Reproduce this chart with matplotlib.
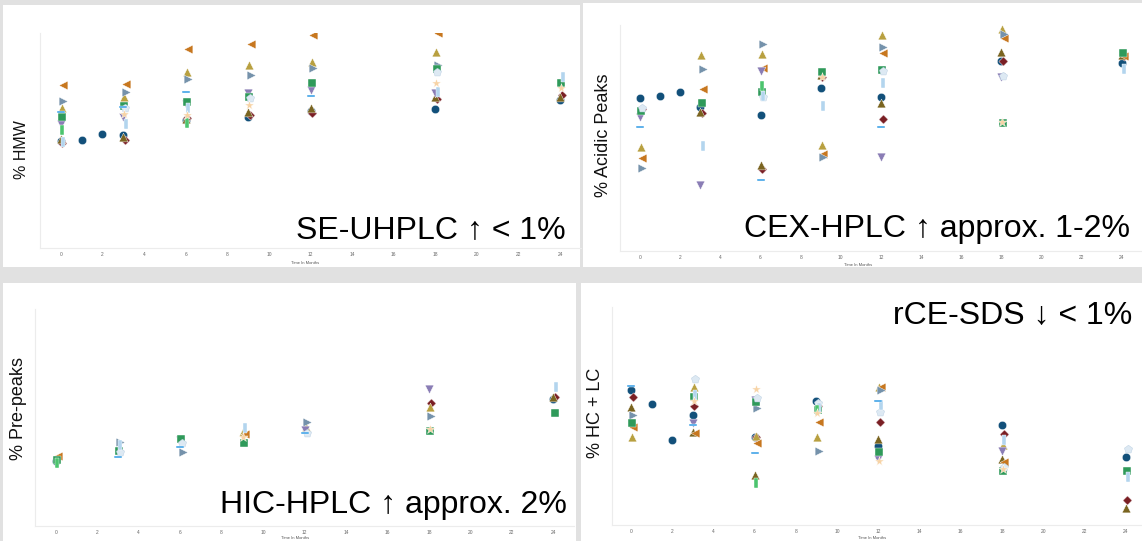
import matplotlib
matplotlib.use("Agg")
import matplotlib.pyplot as plt
from matplotlib.patches import Rectangle
import numpy as np

plt.rcParams["font.family"] = ["Liberation Sans", "DejaVu Sans"]

W, H = 1142, 541
N = None

MONTHS = [0, 1, 2, 3, 6, 9, 12, 18, 24]
LOTS = ["Lot A", "Lot B", "Lot C", "Lot D", "Lot E", "Lot F", "Lot G",
        "Lot H", "Lot I", "Lot J", "Lot K", "Lot L", "Lot M"]

# % HMW (SE-UHPLC)
HMW = {
    "Lot A": [1.07, 1.08, 1.14, 1.13, 1.28, 1.31, 1.37, 1.39, 1.48],
    "Lot B": [1.05, N, N, 1.08, 1.30, 1.33, 1.35, 1.49, 1.53],
    "Lot C": [1.09, N, N, 1.11, 1.29, 1.36, 1.40, 1.51, 1.51],
    "Lot D": [1.40, N, N, 1.51, 1.76, 1.83, 1.86, 1.96, N],
    "Lot E": [1.63, N, N, 1.64, 1.99, 2.04, 2.13, 2.15, N],
    "Lot F": [1.47, N, N, 1.56, 1.69, 1.73, 1.80, 1.83, N],
    "Lot G": [1.24, N, N, 1.31, 1.44, 1.55, 1.58, 1.55, N],
    "Lot H": [1.31, N, N, 1.42, 1.46, 1.51, 1.65, 1.79, 1.65],
    "Lot I": [N, N, N, 1.40, N, 1.50, N, 1.76, N],
    "Lot J": [1.06, N, N, 1.24, 1.40, N, N, 1.56, 1.71],
    "Lot K": [1.36, N, N, 1.41, 1.56, N, 1.52, N, N],
    "Lot L": [1.18, N, N, N, 1.25, N, N, N, N],
    "Lot M": [N, N, N, 1.34, 1.33, 1.43, N, 1.65, 1.60],
}

# % Acidic Peaks (CEX-HPLC)
CEX = {
    "Lot A": [22.65, 22.75, 22.95, 22.2, 21.8, 23.15, 22.7, 24.5, 24.4],
    "Lot B": [22.1, N, N, 21.9, 19.1, 23.7, 21.6, 24.5, 24.75],
    "Lot C": [22.05, N, N, 21.95, 19.3, 23.8, 22.4, 24.95, 24.8],
    "Lot D": [20.2, N, N, 24.8, 24.85, 20.3, 25.8, 26.1, N],
    "Lot E": [19.65, N, N, 23.1, 24.15, 19.85, 24.9, 25.65, 24.75],
    "Lot F": [19.15, N, N, 24.1, 25.35, 19.7, 25.2, 25.85, N],
    "Lot G": [21.7, N, N, 18.3, 24.0, N, 19.7, 23.7, N],
    "Lot H": [22.0, N, N, 22.4, 22.95, 23.95, 24.05, 21.4, 24.9],
    "Lot I": [22.15, N, N, N, 22.7, N, 24.0, 23.75, N],
    "Lot J": [N, N, N, 20.25, 22.75, 22.25, 23.4, N, 24.1],
    "Lot K": [21.2, N, N, N, 18.55, N, 21.2, N, N],
    "Lot L": [N, N, N, N, 23.25, N, N, N, N],
    "Lot M": [N, N, N, N, N, 23.7, N, 21.45, N],
}

# % Pre-peaks (HIC-HPLC)
HIC = {
    "Lot A": [2.62, N, N, N, N, N, N, N, 5.08],
    "Lot B": [N, N, N, N, N, N, N, 4.92, 5.16],
    "Lot C": [N, N, N, N, N, N, N, N, 5.16],
    "Lot D": [N, N, N, 3.16, N, 3.76, 3.96, 4.76, N],
    "Lot E": [2.80, N, N, N, N, 3.68, N, N, N],
    "Lot F": [N, N, N, 3.36, 2.96, N, 4.16, 4.40, N],
    "Lot G": [N, N, N, N, 3.44, N, 3.84, 5.48, N],
    "Lot H": [2.64, N, N, 3.00, 3.48, 3.32, N, 3.80, 4.52],
    "Lot I": [N, N, N, 2.96, 3.32, N, 3.72, N, N],
    "Lot J": [N, N, N, 3.24, N, 3.92, N, N, 5.56],
    "Lot K": [N, N, N, 2.76, 3.16, N, 3.72, N, N],
    "Lot L": [2.52, N, N, N, N, N, N, N, N],
    "Lot M": [N, N, N, N, N, 3.56, N, 3.88, N],
}

# % HC + LC (rCE-SDS)
RCE = {
    "Lot A": [95.69, 95.51, 95.06, 95.38, 95.10, 95.55, 94.99, 95.25, 94.85],
    "Lot B": [95.60, N, N, 95.49, 95.10, 95.49, 95.29, 95.14, 94.31],
    "Lot C": [95.48, N, N, 95.16, 94.63, N, 95.08, 94.83, 94.21],
    "Lot D": [95.10, N, N, 95.73, 95.11, 95.10, 95.73, 95.00, N],
    "Lot E": [95.23, N, N, 95.15, 95.03, 95.29, 95.73, 94.79, N],
    "Lot F": [95.38, N, N, N, 95.46, 94.93, 95.69, N, N],
    "Lot G": [N, N, N, 95.28, 95.56, N, 94.83, 94.93, N],
    "Lot H": [95.28, N, N, 95.60, 95.54, 95.44, 94.91, 94.68, 94.68],
    "Lot I": [N, N, N, 95.83, 95.59, 95.53, 95.41, 94.73, 94.95],
    "Lot J": [N, N, N, 95.63, N, 95.46, 95.50, 95.06, 94.60],
    "Lot K": [95.74, N, N, 95.25, 94.90, N, 95.55, N, N],
    "Lot L": [N, N, N, N, 94.53, 95.44, N, N, N],
    "Lot M": [N, N, N, 95.55, 95.70, 95.40, 94.80, 94.70, N],
}

# marker styles per lot
VBAR = [(-0.3, -1), (0.3, -1), (0.3, 1), (-0.3, 1), (-0.3, -1)]
HBAR = [(-1, -0.3), (1, -0.3), (1, 0.3), (-1, 0.3), (-1, -0.3)]
STYLE = {
    "Lot A": dict(marker="o", c="#12507a", s=36, dx=0.0),
    "Lot B": dict(marker="D", c="#7a1f24", s=22, dx=0.08),
    "Lot C": dict(marker="^", c="#7a6420", s=40, dx=0.0),
    "Lot D": dict(marker="^", c="#b8a040", s=40, dx=0.05),
    "Lot E": dict(marker="<", c="#c7771f", s=40, dx=0.12),
    "Lot F": dict(marker=">", c="#7592ab", s=40, dx=0.12),
    "Lot G": dict(marker="v", c="#8a7db5", s=40, dx=0.0),
    "Lot H": dict(marker="s", c="#2f9a5a", s=34, dx=0.06),
    "Lot I": dict(marker="p", c="#dde9f3", s=38, dx=0.1),
    "Lot J": dict(marker=VBAR, c="#b3d5ee", s=55, dx=0.12),
    "Lot K": dict(marker=HBAR, c="#3aa0e6", s=36, dx=0.0),
    "Lot L": dict(marker=VBAR, c="#4cc46e", s=55, dx=0.05),
    "Lot M": dict(marker="*", c="#f7d3a5", s=50, dx=0.05),
}

# panel layout in pixels
PANELS = [
    dict(data=HMW, box=(3, 5, 580, 267), ax=(40, 33, 581, 248), xlim=(-1, 25),
         ylim=(0, 2.15), ylabel="% HMW", ylab=(22, 150, 11.5), xlab=(305, 263),
         note="SE-UHPLC \u2191 < 1%", note_at=(566, 238)),
    dict(data=CEX, box=(583, 3, 1142, 267), ax=(620, 25, 1142, 251), xlim=(-1, 25),
         ylim=(15, 26.3), ylabel="% Acidic Peaks", ylab=(603, 135, 13), xlab=(858, 265),
         note="CEX-HPLC \u2191 approx. 1-2%", note_at=(1130, 237)),
    dict(data=HIC, box=(3, 283, 576, 541), ax=(35, 309, 574, 526), xlim=(-1, 25),
         ylim=(0, 8.68), ylabel="% Pre-peaks", ylab=(19, 408, 13), xlab=(295, 538),
         note="HIC-HPLC \u2191 approx. 2%", note_at=(567, 513)),
    dict(data=RCE, box=(581, 283, 1142, 541), ax=(612, 307, 1142, 525), xlim=(-0.92, 24.8),
         ylim=(94, 96.725), ylabel="% HC + LC", ylab=(596, 413, 13), xlab=(872, 538),
         note="rCE-SDS \u2193 < 1%", note_at=(1132, 323)),
]


def frac(x0, y0, x1, y1):
    return [x0 / W, 1 - y1 / H, (x1 - x0) / W, (y1 - y0) / H]


fig = plt.figure(figsize=(W / 100, H / 100), dpi=100, facecolor="#e1e1e1")

for p in PANELS:
    l, b, w, h = frac(*p["box"])
    fig.add_artist(Rectangle((l, b), w, h, transform=fig.transFigure,
                             facecolor="white", edgecolor="none", zorder=0))
    ax = fig.add_axes(frac(*p["ax"]))
    ax.set_facecolor("none")
    for lot in LOTS:
        st = STYLE[lot]
        xs = [m + st["dx"] for m, v in zip(MONTHS, p["data"][lot]) if v is not None]
        ys = [v for v in p["data"][lot] if v is not None]
        ec = "#b7cde0" if lot == "Lot I" else "white"
        ax.scatter(xs, ys, marker=st["marker"], c=st["c"], s=st["s"],
                   edgecolors=ec, linewidths=0.3, zorder=3)
    ax.set_xlim(*p["xlim"])
    ax.set_ylim(*p["ylim"])
    ax.set_xticks(np.arange(0, 25, 2))
    ax.set_yticks([])
    ax.tick_params(axis="x", length=0, pad=3, labelsize=3.5, labelcolor="#666")
    for side in ("top", "right"):
        ax.spines[side].set_visible(False)
    for side in ("left", "bottom"):
        ax.spines[side].set_color("#ececec")
        ax.spines[side].set_linewidth(0.8)
    yx, yy, fs = p["ylab"]
    fig.text(yx / W, 1 - yy / H, p["ylabel"], rotation=90, ha="center",
             va="center", fontsize=fs, color="#111")
    fig.text(p["xlab"][0] / W, 1 - p["xlab"][1] / H, "Time In Months",
             ha="center", va="center", fontsize=3, color="#555")
    fig.text(p["note_at"][0] / W, 1 - p["note_at"][1] / H, p["note"],
             ha="right", va="baseline", fontsize=23, color="black")

fig.savefig("out.png", dpi=100, facecolor=fig.get_facecolor())
